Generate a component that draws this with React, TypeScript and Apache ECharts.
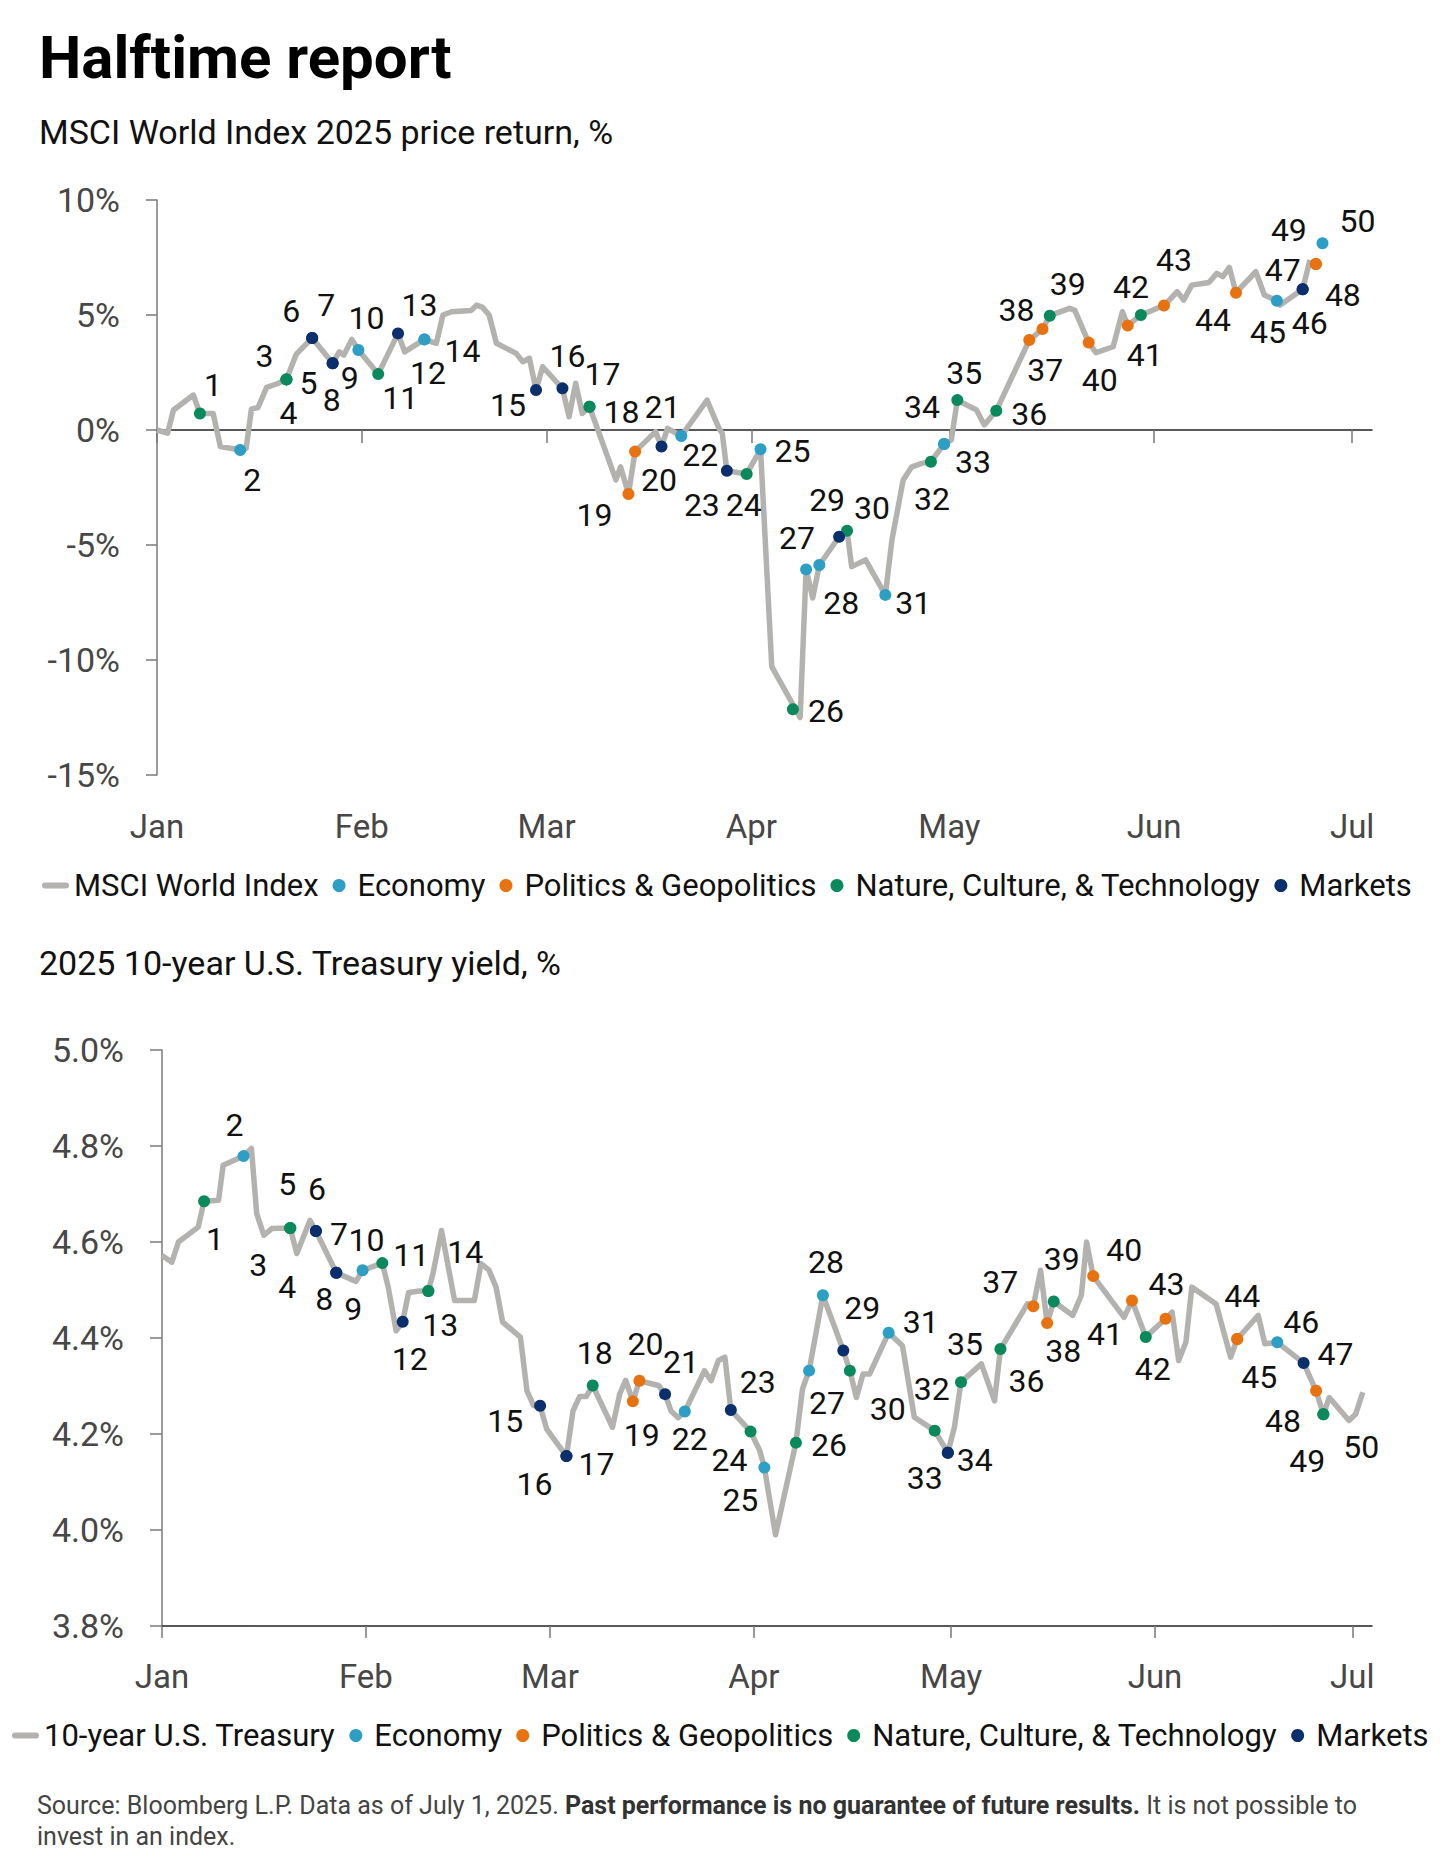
import { useEffect, useRef } from 'react';
import * as echarts from 'echarts';

const FONT = 'Roboto, "Noto Sans", sans-serif';

// x axis is counted in days since Jan 1, 2025
const months = ['Jan', 'Feb', 'Mar', 'Apr', 'May', 'Jun', 'Jul'];
const monthStartDays = [0, 31, 59, 90, 120, 151, 181];

const categories = ['Economy', 'Politics & Geopolitics', 'Nature, Culture, & Technology', 'Markets'];
const categoryColors = ['#2d9fc4', '#e8720f', '#0a8a5c', '#0b2f6c'];

// MSCI World Index, price return %
const msciDays = [
  0, 1.6, 2.5, 5.5, 6.5, 8.5, 9.6, 12.6, 13.5, 14.3, 15.3, 16.6, 18.1, 19.6, 21.1, 23.5, 26.6, 27.6, 28.3, 29.5,
  30.5, 33.5, 36.5, 37.5, 40.5, 42.3, 43.3, 44.6, 47.6, 48.4, 49.3, 50.3, 51.4, 54.4, 55.4, 56.4, 57.4, 58.4, 61.4,
  62.4, 63.4, 64.4, 65.5, 69.5, 70.2, 71.4, 72.4, 75.5, 76.4, 77.3, 79.4, 83.3, 85.1, 85.6, 86.3, 89.3, 91.4, 93.1,
  97.4, 98.3, 99.3, 100.3, 103.3, 104.5, 105.2, 107.3, 110.3, 111.3, 113, 114.3, 115.8, 117.2, 119.2, 120.3, 121.2,
  124.1, 125.3, 127.1, 132.1, 134.1, 135.2, 138.2, 139, 141.1, 142.2, 144.8, 146.2, 147, 149, 152.5, 154.5, 155.5,
  156.7, 159.3, 160.5, 161.4, 162.4, 163.4, 166.4, 167.7, 169.6, 170.1, 173.5, 174.6,
];
const msciReturns = [
  0, -0.14, 0.87, 1.52, 0.72, 0.72, -0.72, -0.87, -0.8, 0.91, 0.98, 1.85, 2.0, 2.2, 3.3, 4.0, 2.9, 3.4, 3.26, 3.94,
  3.48, 2.43, 4.2, 3.4, 3.94, 3.77, 5.0, 5.14, 5.2, 5.43, 5.33, 5.0, 3.77, 3.33, 2.97, 3.12, 1.74, 2.75, 1.81,
  0.58, 2.03, 0.72, 1.01, -2.17, -1.6, -2.78, -0.94, -0.07, -0.72, 0.07, -0.26, 1.3, 0.07, -0.14, -1.77, -1.91, -0.84, -10.29,
  -12.5, -6.06, -7.3, -5.87, -4.64, -4.38, -5.94, -5.65, -7.17, -4.78, -2.17, -1.6, -1.45, -1.38, -0.61, -0.43, 1.3,
  0.87, 0.22, 0.84, 3.91, 4.39, 4.97, 5.29, 5.2, 3.8, 3.36, 3.62, 5.14, 4.54, 5.0, 5.41, 6.01, 5.65,
  6.3, 6.41, 6.81, 6.67, 7.07, 5.97, 6.88, 5.87, 5.62, 5.43, 6.12, 7.39,
];

// numbered events on the MSCI chart (event n is index n-1); category is an index into categories
const msciEventDays = [
  6.5, 12.6, 19.6, 19.6, 19.6, 23.5, 23.5, 26.6, 26.6, 30.5, 33.5, 36.5, 40.5, 40.5, 57.4, 61.4, 65.5, 65.5, 71.4, 72.4,
  76.4, 79.4, 86.3, 89.3, 91.4, 96.3, 98.3, 100.3, 103.3, 104.5, 110.3, 117.2, 119.2, 119.2, 121.2, 127.1, 132.1, 134.1,
  135.2, 141.1, 147, 149, 152.5, 163.4, 169.6, 173.5, 173.5, 175.5, 175.5, 176.5,
];
const msciEventReturns = [
  0.72, -0.87, 2.2, 2.2, 2.2, 4.0, 4.0, 2.9, 2.9, 3.48, 2.43, 4.2, 3.94, 3.94, 1.74, 1.81, 1.01, 1.01, -2.78, -0.94,
  -0.72, -0.26, -1.77, -1.91, -0.84, -12.14, -6.06, -5.87, -4.64, -4.38, -7.17, -1.38, -0.61, -0.61, 1.3, 0.84, 3.91, 4.39,
  4.97, 3.8, 4.54, 5.0, 5.41, 5.97, 5.62, 6.12, 6.12, 7.22, 7.22, 8.12,
];
const msciEventCategories = [
  2, 0, 2, 2, 2, 3, 3, 3, 3, 0, 2, 3, 0, 0, 3, 3, 2, 2, 1, 1,
  3, 0, 3, 2, 0, 2, 0, 0, 3, 2, 0, 2, 0, 0, 2, 2, 1, 1,
  2, 1, 1, 2, 1, 1, 0, 3, 3, 1, 1, 0,
];

// 10-year U.S. Treasury yield, %
const yieldDays = [
  0, 1.5, 2.5, 5.5, 6.4, 8.6, 9.3, 12.4, 13.6, 14.4, 15.5, 16.7, 19.5, 20.5, 22.5, 23.4, 26.5, 29.5, 30.5, 33.5,
  34.4, 35.6, 36.6, 37.5, 39.2, 40.5, 41.2, 42.5, 44.3, 44.5, 47.5, 48.5, 49.7, 50.8, 51.8, 54.5, 55.5, 56.5, 57.5,
  58.5, 61.5, 62.5, 63.5, 64.5, 65.5, 68.5, 69.6, 70.5, 71.6, 72.6, 75.5, 76.5, 77.4, 78.5, 79.5, 82.5, 83.5, 84.6,
  85.6, 86.5, 89.5, 90.9, 91.6, 93.3, 96.4, 97.4, 98.4, 100.5, 103.6, 104.6, 105.6, 106.6, 107.6, 110.5, 112.6, 114.4,
  117.5, 119.5, 120.5, 121.5, 124.6, 126.6, 127.5, 131.6, 132.5, 133.6, 134.6, 135.6, 138.5, 139.8, 140.6, 141.6,
  146.3, 147.5, 149.6, 152.6, 153.6, 154.6, 155.7, 156.6, 160.3, 162.5, 163.5, 166.7, 167.7, 169.6, 173.6, 175.5,
  176.6, 177.5, 180.5, 181.5, 182.6,
];
const yieldValues = [
  4.572, 4.558, 4.6, 4.631, 4.685, 4.687, 4.76, 4.779, 4.795, 4.659, 4.614, 4.628, 4.629, 4.576, 4.645, 4.623, 4.536, 4.518, 4.541, 4.556,
  4.506, 4.415, 4.434, 4.495, 4.498, 4.498, 4.534, 4.624, 4.492, 4.478, 4.478, 4.555, 4.542, 4.506, 4.433, 4.402, 4.29, 4.259, 4.259,
  4.21, 4.154, 4.248, 4.278, 4.278, 4.301, 4.214, 4.283, 4.312, 4.268, 4.311, 4.301, 4.283, 4.248, 4.234, 4.247, 4.332, 4.311, 4.353,
  4.36, 4.25, 4.205, 4.165, 4.13, 3.99, 4.182, 4.294, 4.332, 4.489, 4.374, 4.332, 4.276, 4.325, 4.325, 4.411, 4.384, 4.235,
  4.207, 4.161, 4.214, 4.308, 4.346, 4.269, 4.377, 4.471, 4.466, 4.541, 4.431, 4.476, 4.447, 4.489, 4.6, 4.529,
  4.443, 4.478, 4.402, 4.44, 4.454, 4.353, 4.391, 4.506, 4.471, 4.36, 4.398, 4.447, 4.388, 4.391, 4.348, 4.29,
  4.241, 4.276, 4.228, 4.241, 4.287,
];

const yieldEventDays = [
  6.4, 12.4, 19.5, 19.5, 19.5, 23.4, 23.4, 26.5, 26.5, 30.5, 33.5, 36.6, 40.5, 40.5, 57.5, 61.5, 61.5, 65.5, 71.6, 72.6,
  76.5, 79.5, 86.5, 89.5, 91.6, 96.4, 98.4, 100.5, 103.6, 104.6, 110.5, 117.5, 119.5, 119.5, 121.5, 127.5, 132.5, 134.6,
  135.6, 141.6, 147.5, 149.6, 152.6, 163.5, 163.5, 169.6, 173.6, 175.5, 176.6, 176.6,
];
const yieldEventValues = [
  4.685, 4.779, 4.629, 4.629, 4.629, 4.623, 4.623, 4.536, 4.536, 4.541, 4.556, 4.434, 4.498, 4.498, 4.259, 4.154, 4.154, 4.301, 4.268, 4.311,
  4.283, 4.247, 4.25, 4.205, 4.13, 4.182, 4.332, 4.489, 4.374, 4.332, 4.411, 4.207, 4.161, 4.161, 4.308, 4.377, 4.466, 4.431,
  4.476, 4.529, 4.478, 4.402, 4.44, 4.398, 4.398, 4.391, 4.348, 4.29, 4.241, 4.241,
];
const yieldEventCategories = [
  2, 0, 2, 2, 2, 3, 3, 3, 3, 0, 2, 3, 2, 2, 3, 3, 3, 2, 1, 1,
  3, 0, 3, 2, 0, 2, 0, 0, 3, 2, 0, 2, 3, 3, 2, 2, 1, 1,
  2, 1, 1, 2, 1, 1, 1, 0, 3, 1, 2, 2,
];

// where each event number sits relative to its dot, in px
const msciLabelOffsets = [
  [13, -28], [12, 30], [-22, -23], [2, 34], [22, 4], [-21, -27], [14, -33], [-1, 37], [17, 15], [8, -32],
  [22, 24], [30, 40], [-5, -34], [38, 12], [-28, 15], [5, -32], [13, -33], [32, 5], [-34, 21], [24, 28],
  [1, -40], [19, 19], [-25, 34], [-3, 31], [32, 2], [33, 2], [-9, -31], [22, 38], [-12, -37], [25, -23],
  [28, 8], [1, 37], [29, 18], [-22, -37], [7, -27], [33, 3], [16, 30], [-26, -19], [18, -32], [11, 37],
  [17, 29], [-10, -28], [10, -46], [-23, 27], [-9, 31], [7, 34], [-20, -19], [27, 31], [-27, -34], [35, -22],
];
const yieldLabelOffsets = [
  [11, 38], [-9, -31], [-32, 37], [-3, 59], [-3, -44], [1, -42], [23, 3], [-12, 26], [17, 36], [4, -30],
  [29, -8], [7, 37], [12, 34], [37, -39], [-35, 15], [-32, 28], [30, 8], [2, -33], [9, 34], [6, -37],
  [16, -32], [5, 28], [27, -28], [-21, 28], [-24, 32], [33, 2], [18, 32], [3, -33], [19, -42], [38, 38],
  [32, -11], [-3, -42], [-23, 25], [27, 7], [4, -38], [26, 32], [-33, -24], [16, 28], [8, -43], [31, -26],
  [-27, 33], [7, 32], [1, -35], [5, -43], [22, 38], [24, -20], [32, -9], [-33, 30], [-16, 47], [38, 33],
];

const LINE_COLOR = '#b4b2af';
const LINE_ICON = 'path://M3 0H24A3 3 0 0 1 24 6H3A3 3 0 0 1 3 0Z';

const eventSeries = (
  days: number[],
  values: number[],
  cats: number[],
  offsets: number[][],
  xAxisIndex: number,
  yAxisIndex: number
) =>
  categories.map((name, k) => ({
    name,
    type: 'scatter',
    xAxisIndex,
    yAxisIndex,
    z: 4,
    symbolSize: 12,
    itemStyle: { color: categoryColors[k], opacity: 1 },
    label: {
      show: true,
      position: 'inside',
      formatter: (p: any) => p.name,
      color: '#111',
      fontSize: 32,
      fontFamily: FONT,
    },
    emphasis: { disabled: true },
    data: days
      .map((d, i) => ({ d, i }))
      .filter(({ i }) => cats[i] === k)
      .map(({ d, i }) => ({
        name: String(i + 1),
        value: [d, values[i]],
        label: { offset: offsets[i] },
      })),
  }));

const monthLabel = (margin: number) => ({
  customValues: monthStartDays,
  formatter: (v: number) => months[monthStartDays.indexOf(v)] ?? '',
  margin,
  verticalAlign: 'middle',
  fontSize: 33,
  color: '#474747',
  fontFamily: FONT,
});

const legendData = (lineName: string) => [
  { name: lineName, icon: LINE_ICON },
  ...categories.map((c) => ({ name: c, icon: 'circle' })),
];

const legendBase = {
  orient: 'horizontal',
  padding: 0,
  itemWidth: 27,
  itemHeight: 13,
  itemGap: 14,
  selectedMode: false,
  textStyle: { fontSize: 31, color: '#111', fontFamily: FONT },
};

const App = () => {
  const chartRef = useRef<HTMLDivElement>(null);

  useEffect(() => {
    document.body.style.margin = '0';
    if (!chartRef.current) return;
    const chart = echarts.init(chartRef.current, null, { renderer: 'svg' });

    const option = {
      animation: false,
      backgroundColor: '#fff',
      textStyle: { fontFamily: FONT },
      graphic: [
        {
          type: 'text',
          x: 39,
          y: 57,
          style: { text: 'Halftime report', fontSize: 60, fontWeight: 'bold', fontFamily: FONT, fill: '#000', verticalAlign: 'middle' },
        },
        {
          type: 'text',
          x: 39,
          y: 132,
          style: { text: 'MSCI World Index 2025 price return, %', fontSize: 34, fontFamily: FONT, fill: '#111', verticalAlign: 'middle' },
        },
        {
          type: 'text',
          x: 39,
          y: 963,
          style: { text: '2025 10-year U.S. Treasury yield, %', fontSize: 34, fontFamily: FONT, fill: '#111', verticalAlign: 'middle' },
        },
        {
          type: 'text',
          x: 37,
          y: 1790,
          style: {
            text:
              'Source: Bloomberg L.P. Data as of July 1, 2025. {b|Past performance is no guarantee of future results.} It is not possible to\ninvest in an index.',
            fontSize: 25,
            lineHeight: 31,
            fontFamily: FONT,
            fill: '#444',
            verticalAlign: 'top',
            rich: { b: { fontSize: 25, lineHeight: 31, fontWeight: 'bold', fontFamily: FONT, fill: '#333' } },
          },
        },
      ],
      legend: [
        { ...legendBase, left: 42, top: 870, data: legendData('MSCI World Index') },
        { ...legendBase, left: 12, top: 1720, data: legendData('10-year U.S. Treasury') },
      ],
      grid: [
        { left: 157, top: 200, width: 1215, height: 575, outerBoundsMode: 'none' },
        { left: 162, top: 1050, width: 1210, height: 576, outerBoundsMode: 'none' },
      ],
      xAxis: [
        {
          type: 'value',
          gridIndex: 0,
          min: 0,
          max: 184,
          position: 'bottom',
          axisLine: { show: true, onZero: true, lineStyle: { color: '#222', width: 1.5 } },
          axisTick: { show: true, customValues: monthStartDays, length: 13, lineStyle: { color: '#777', width: 1.5 } },
          axisLabel: { show: false },
          splitLine: { show: false },
        },
        {
          type: 'value',
          gridIndex: 0,
          min: 0,
          max: 184,
          position: 'bottom',
          axisLine: { show: false, onZero: false },
          axisTick: { show: false },
          splitLine: { show: false },
          axisLabel: monthLabel(51),
        },
        {
          type: 'value',
          gridIndex: 1,
          min: 0,
          max: 184,
          position: 'bottom',
          axisLine: { show: true, onZero: false, lineStyle: { color: '#222', width: 1.5 } },
          axisTick: { show: true, customValues: monthStartDays, length: 12, lineStyle: { color: '#777', width: 1.5 } },
          axisLabel: monthLabel(50),
          splitLine: { show: false },
        },
      ],
      yAxis: [
        {
          type: 'value',
          gridIndex: 0,
          min: -15,
          max: 10,
          interval: 5,
          axisLine: { show: true, lineStyle: { color: '#7a7a7a', width: 1.5 } },
          axisTick: { show: true, length: 11, lineStyle: { color: '#7a7a7a', width: 1.5 } },
          axisLabel: { formatter: '{value}%', margin: 37, fontSize: 34, color: '#474747', fontFamily: FONT },
          splitLine: { show: false },
        },
        {
          type: 'value',
          gridIndex: 1,
          min: 3.8,
          max: 5.0,
          interval: 0.2,
          axisLine: { show: true, onZero: false, lineStyle: { color: '#7a7a7a', width: 1.5 } },
          axisTick: { show: true, length: 12, lineStyle: { color: '#7a7a7a', width: 1.5 } },
          axisLabel: {
            formatter: (v: number) => `${v.toFixed(1)}%`,
            margin: 38,
            fontSize: 34,
            color: '#474747',
            fontFamily: FONT,
          },
          splitLine: { show: false },
        },
      ],
      series: [
        {
          name: 'MSCI World Index',
          type: 'line',
          xAxisIndex: 0,
          yAxisIndex: 0,
          z: 3,
          symbol: 'none',
          showSymbol: false,
          itemStyle: { color: LINE_COLOR },
          lineStyle: { color: LINE_COLOR, width: 5.5, join: 'round' },
          emphasis: { disabled: true },
          data: msciDays.map((d, i) => [d, msciReturns[i]]),
        },
        ...eventSeries(msciEventDays, msciEventReturns, msciEventCategories, msciLabelOffsets, 0, 0),
        {
          name: '10-year U.S. Treasury',
          type: 'line',
          xAxisIndex: 2,
          yAxisIndex: 1,
          z: 3,
          symbol: 'none',
          showSymbol: false,
          itemStyle: { color: LINE_COLOR },
          lineStyle: { color: LINE_COLOR, width: 5.5, join: 'round' },
          emphasis: { disabled: true },
          data: yieldDays.map((d, i) => [d, yieldValues[i]]),
        },
        ...eventSeries(yieldEventDays, yieldEventValues, yieldEventCategories, yieldLabelOffsets, 2, 1),
      ],
    };

    chart.setOption(option);

    return () => {
      chart.dispose();
    };
  }, []);

  return <div ref={chartRef} style={{ width: 1440, height: 1870 }} />;
};

export default App;
